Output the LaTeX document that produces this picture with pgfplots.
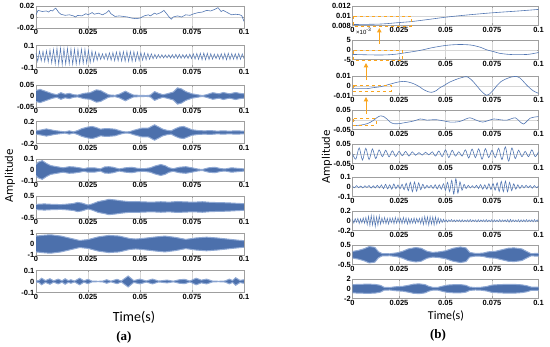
\documentclass[border=0pt]{standalone}
\usepackage{fontspec}
\setmainfont{Liberation Sans}
\newfontfamily\tickfam{Liberation Sans}
\newfontfamily\dejavu{DejaVu Sans}
\newfontfamily\carlito{Carlito}
\newfontfamily\lserif{Liberation Serif}
\usepackage{pgfplots}
\pgfplotsset{compat=1.18}
\usepgfplotslibrary{fillbetween}
\usetikzlibrary{arrows.meta}
\definecolor{sig}{RGB}{82,118,178}
\definecolor{core}{RGB}{76,112,172}
\definecolor{fringe}{RGB}{145,170,212}
\definecolor{org}{RGB}{250,165,30}
\newcommand\tickfont{\tickfam\bfseries\fontsize{7.5}{8}\selectfont}
\pgfplotsset{
 panel/.style={scale only axis, anchor=north west, xmin=0, xmax=0.1,
   scaled x ticks=false, scaled y ticks=false,
   xtick={0,0.025,0.05,0.075,0.1}, xticklabels={0,0.025,0.05,0.075,0.1},
   axis line style={draw=gray!75, line width=0.5pt},
   tick style={draw=gray!75, line width=0.4pt}, tick align=inside, major tick length=2pt,
   grid=major, grid style={draw=gray!32, line width=0.3pt},
   ticklabel style={font=\tickfont},
   xticklabel style={inner sep=1.5pt},
   yticklabel style={inner sep=1.5pt}},
 L/.style={panel, width=208pt, height=22pt},
 R/.style={panel, width=186pt, height=19.5pt},
 sigl/.style={color=sig, line width=0.6pt, mark=none},
}
\newcommand\env[1]{%
 \addplot[name path=A, draw=fringe, line width=1pt] table[header=false,row sep=\\]{#1};
 \addplot[name path=B, draw=fringe, line width=1pt] table[header=false,row sep=\\, y expr=-\thisrowno{1}]{#1};
 \addplot[fill=core, draw=none] fill between[of=A and B];}
\begin{document}
\begin{tikzpicture}
\path (0,0) rectangle (550pt,-347pt);
% ================= LEFT (a) =================
\begin{axis}[L, at={(36pt,-6pt)}, ymin=-0.02, ymax=0.02, ytick={-0.02,0,0.02}, yticklabels={-0.02,0,0.02}]
\addplot[sigl] table[header=false,row sep=\\]{
0 0.004\\0.001 0.012\\0.003 0.01\\0.005 0.011\\0.006 0.009\\0.007 0.012\\0.008 0.011\\0.009 0.015\\0.0095 0.016\\0.011 0.008\\0.012 0.005\\0.014 0.003\\0.016 0.004\\0.018 0.002\\0.019 0.0\\0.020 0.003\\0.022 0.002\\0.024 0.006\\0.025 0.004\\0.027 0.008\\0.028 0.005\\0.030 0.007\\0.032 0.004\\0.034 0.008\\0.035 0.012\\0.036 0.006\\0.038 0.001\\0.040 0.002\\0.042 0.001\\0.044 0.0\\0.046 -0.002\\0.048 -0.003\\0.050 -0.002\\0.052 0.002\\0.054 0.004\\0.055 0.002\\0.057 0.007\\0.058 0.005\\0.060 0.008\\0.0615 0.012\\0.063 0.005\\0.064 0.0\\0.065 -0.004\\0.066 0.0\\0.068 0.002\\0.070 0.0\\0.072 0.004\\0.074 0.003\\0.076 0.006\\0.078 0.008\\0.080 0.009\\0.082 0.012\\0.084 0.011\\0.086 0.014\\0.0875 0.017\\0.089 0.01\\0.090 0.012\\0.092 0.008\\0.094 0.004\\0.096 0.005\\0.098 0.004\\0.099 0.002\\0.1 -0.008\\};
\end{axis}
\begin{axis}[L, at={(36pt,-45.5pt)}, ymin=-0.1, ymax=0.1, ytick={-0.1,0,0.1}, yticklabels={-0.1,0,0.1}]
\addplot[sigl, line width=0.5pt] table[header=false,row sep=\\, x expr=\coordindex*0.000840336, y index=0]{
0.03\\-0.045\\0.05\\-0.04\\0.048\\-0.045\\0.052\\-0.05\\0.06\\-0.058\\0.065\\-0.068\\0.075\\-0.072\\0.078\\-0.075\\0.072\\-0.07\\0.075\\-0.068\\0.07\\-0.072\\0.068\\-0.07\\0.066\\-0.065\\0.068\\-0.062\\0.066\\-0.06\\0.058\\-0.055\\0.05\\-0.045\\0.042\\-0.035\\0.032\\-0.028\\0.025\\-0.025\\0.028\\-0.03\\0.034\\-0.035\\0.038\\-0.04\\0.042\\-0.04\\0.044\\-0.042\\0.045\\-0.044\\0.047\\-0.045\\0.046\\-0.044\\0.045\\-0.042\\0.04\\-0.038\\0.036\\-0.034\\0.032\\-0.03\\0.028\\-0.026\\0.025\\-0.022\\0.02\\-0.018\\0.018\\-0.015\\0.016\\-0.014\\0.015\\-0.013\\0.016\\-0.015\\0.018\\-0.016\\0.02\\-0.018\\0.02\\-0.017\\0.018\\-0.016\\0.018\\-0.018\\0.022\\-0.02\\0.025\\-0.024\\0.028\\-0.027\\0.03\\-0.03\\0.032\\-0.03\\0.03\\-0.028\\0.026\\-0.024\\0.022\\-0.02\\0.022\\-0.024\\0.026\\-0.027\\0.028\\-0.03\\0.03\\-0.028\\0.027\\-0.025\\0.026\\-0.027\\0.028\\-0.026\\0.024\\-0.02\\};
\end{axis}
\begin{axis}[L, at={(36pt,-85pt)}, ymin=-0.05, ymax=0.05, ytick={-0.05,0,0.05}, yticklabels={-0.05,0,0.05}]
\env{0 0.025\\0.002 0.03\\0.005 0.02\\0.008 0.01\\0.010 0.006\\0.012 0.015\\0.014 0.008\\0.016 0.012\\0.018 0.006\\0.020 0.004\\0.023 0.012\\0.026 0.015\\0.029 0.028\\0.031 0.025\\0.033 0.015\\0.035 0.005\\0.038 0.003\\0.040 0.008\\0.043 0.022\\0.045 0.012\\0.047 0.004\\0.050 0.003\\0.053 0.002\\0.055 0.004\\0.057 0.02\\0.059 0.012\\0.061 0.006\\0.063 0.01\\0.066 0.018\\0.068 0.037\\0.070 0.032\\0.072 0.02\\0.075 0.01\\0.078 0.005\\0.080 0.002\\0.082 0.006\\0.085 0.015\\0.088 0.01\\0.090 0.016\\0.093 0.01\\0.096 0.016\\0.098 0.012\\0.1 0.01\\}
\end{axis}
\begin{axis}[L, at={(36pt,-121.5pt)}, ymin=-0.2, ymax=0.2, ytick={-0.2,0,0.2}, yticklabels={-0.2,0,0.2}]
\env{0 0.03\\0.003 0.05\\0.005 0.065\\0.007 0.05\\0.009 0.035\\0.012 0.02\\0.014 0.012\\0.016 0.03\\0.018 0.012\\0.020 0.035\\0.022 0.07\\0.025 0.1\\0.027 0.11\\0.029 0.09\\0.031 0.06\\0.033 0.07\\0.035 0.07\\0.038 0.06\\0.041 0.025\\0.043 0.01\\0.045 0.015\\0.047 0.04\\0.049 0.06\\0.051 0.08\\0.054 0.08\\0.056 0.12\\0.057 0.14\\0.059 0.1\\0.061 0.06\\0.063 0.04\\0.065 0.03\\0.067 0.07\\0.069 0.1\\0.071 0.11\\0.073 0.08\\0.075 0.05\\0.078 0.035\\0.081 0.03\\0.084 0.035\\0.087 0.025\\0.090 0.03\\0.093 0.025\\0.096 0.03\\0.1 0.025\\}
\end{axis}
\begin{axis}[L, at={(36pt,-159pt)}, ymin=-0.1, ymax=0.1, ytick={-0.1,0,0.1}, yticklabels={-0.1,0,0.1}]
\env{0 0.05\\0.001 0.07\\0.003 0.085\\0.005 0.06\\0.007 0.04\\0.010 0.03\\0.013 0.02\\0.016 0.03\\0.018 0.028\\0.021 0.02\\0.023 0.012\\0.025 0.02\\0.028 0.02\\0.031 0.01\\0.033 0.028\\0.035 0.03\\0.037 0.025\\0.040 0.01\\0.043 0.02\\0.046 0.025\\0.049 0.015\\0.052 0.012\\0.055 0.02\\0.057 0.035\\0.060 0.05\\0.062 0.04\\0.064 0.02\\0.066 0.012\\0.069 0.025\\0.072 0.03\\0.075 0.02\\0.078 0.008\\0.080 0.005\\0.083 0.02\\0.086 0.025\\0.089 0.012\\0.091 0.01\\0.094 0.02\\0.097 0.015\\0.1 0.01\\}
\end{axis}
\begin{axis}[L, at={(36pt,-196pt)}, ymin=-0.5, ymax=0.5, ytick={-0.5,0,0.5}, yticklabels={-0.5,0,0.5}]
\env{0 0.12\\0.004 0.14\\0.008 0.12\\0.012 0.11\\0.015 0.13\\0.018 0.16\\0.020 0.21\\0.022 0.18\\0.025 0.09\\0.027 0.14\\0.030 0.25\\0.033 0.3\\0.035 0.35\\0.038 0.32\\0.041 0.28\\0.045 0.24\\0.048 0.25\\0.052 0.23\\0.056 0.22\\0.060 0.24\\0.064 0.22\\0.068 0.25\\0.072 0.23\\0.076 0.22\\0.080 0.24\\0.084 0.21\\0.088 0.2\\0.092 0.19\\0.096 0.17\\0.1 0.15\\}
\end{axis}
\begin{axis}[L, at={(36pt,-233pt)}, ymin=-1, ymax=1, ytick={-1,0,1}, yticklabels={-1,0,1}]
\env{0 0.72\\0.004 0.8\\0.007 0.84\\0.012 0.72\\0.017 0.5\\0.021 0.32\\0.025 0.4\\0.030 0.65\\0.035 0.78\\0.040 0.72\\0.045 0.5\\0.048 0.45\\0.052 0.52\\0.058 0.65\\0.062 0.72\\0.067 0.6\\0.072 0.42\\0.077 0.55\\0.082 0.62\\0.087 0.55\\0.092 0.45\\0.097 0.35\\0.1 0.3\\}
\end{axis}
\begin{axis}[L, at={(36pt,-270.5pt)}, ymin=-0.1, ymax=0.1, ytick={-0.1,0,0.1}, yticklabels={-0.1,0,0.1}]
\env{0 0.004\\0.0015 0.01\\0.0027 0.03\\0.0045 0.008\\0.0067 0.025\\0.0085 0.006\\0.0107 0.022\\0.0125 0.006\\0.014 0.025\\0.0155 0.008\\0.0168 0.016\\0.0185 0.004\\0.021 0.03\\0.023 0.006\\0.025 0.02\\0.027 0.003\\0.030 0.002\\0.032 0.003\\0.034 0.016\\0.036 0.003\\0.039 0.02\\0.041 0.004\\0.0443 0.05\\0.047 0.008\\0.050 0.022\\0.053 0.005\\0.056 0.022\\0.059 0.004\\0.063 0.013\\0.066 0.003\\0.069 0.016\\0.0715 0.02\\0.074 0.004\\0.077 0.03\\0.0795 0.012\\0.082 0.022\\0.085 0.003\\0.088 0.002\\0.091 0.005\\0.093 0.022\\0.0945 0.008\\0.096 0.035\\0.098 0.01\\0.1 0.016\\}
\end{axis}
% ================= RIGHT (b) =================
\begin{axis}[R, at={(352.5pt,-6pt)}, clip=false, ymin=0.008, ymax=0.012, ytick={0.008,0.01,0.012}, yticklabels={0.008,0.01,0.012}]
\addplot[sigl, smooth] table[header=false,row sep=\\]{
0 0.0082\\0.015 0.0083\\0.025 0.0086\\0.0315 0.0088\\0.04 0.0092\\0.05 0.0097\\0.06 0.0101\\0.075 0.0106\\0.09 0.0110\\0.1 0.0113\\};
\draw[org, dashed, line width=0.8pt] (axis cs:0.0003,0.0099) rectangle (axis cs:0.0315,0.0079);
\end{axis}
\begin{axis}[R, at={(352.5pt,-40pt)}, clip=false, ymin=-5, ymax=5, ytick={-5,0,5}, yticklabels={-5,0,5}]
\addplot[sigl, smooth] table[header=false,row sep=\\]{
0 -2.4\\0.008 -2.6\\0.015 -2.7\\0.02 -2.55\\0.024 -2.2\\0.028 -1.6\\0.033 -0.9\\0.038 0.0\\0.042 0.9\\0.046 1.6\\0.05 2.2\\0.054 2.55\\0.058 2.7\\0.062 2.55\\0.065 2.2\\0.069 1.2\\0.072 0.0\\0.076 -1.0\\0.079 -1.8\\0.083 -2.3\\0.0866 -2.5\\0.090 -2.5\\0.094 -2.4\\0.097 -2.0\\0.1 -1.4\\};
\draw[org, dashed, line width=0.8pt] (axis cs:0.0003,-0.5) rectangle (axis cs:0.027,-5.4);
\end{axis}
\begin{axis}[R, at={(352.5pt,-76pt)}, clip=false, ymin=-0.01, ymax=0.01, ytick={-0.01,0,0.01}, yticklabels={-0.01,0,0.01}]
\addplot[sigl, smooth] table[header=false,row sep=\\]{
0 -0.003\\0.005 -0.003\\0.0077 -0.003\\0.011 -0.002\\0.015 -0.001\\0.019 0.001\\0.022 0.0026\\0.025 0.004\\0.0274 0.0045\\0.030 0.0038\\0.033 0.002\\0.036 -0.001\\0.038 -0.0037\\0.0405 -0.006\\0.0427 -0.0067\\0.045 -0.005\\0.047 -0.002\\0.049 0.0\\0.052 0.0035\\0.056 0.0067\\0.059 0.0085\\0.0615 0.0093\\0.064 0.006\\0.0668 0.0\\0.069 -0.005\\0.0722 -0.0098\\0.075 -0.006\\0.0776 0.0\\0.080 0.0045\\0.083 0.0074\\0.0855 0.009\\0.0875 0.0096\\0.090 0.008\\0.094 0.0\\0.097 -0.005\\0.1 -0.0078\\};
\draw[org, dashed, line width=0.8pt] (axis cs:0.0003,0.0005) rectangle (axis cs:0.0207,-0.0058);
\end{axis}
\begin{axis}[R, at={(352.5pt,-110pt)}, clip=false, ymin=-0.05, ymax=0.05, ytick={-0.05,0,0.05}, yticklabels={-0.05,0,0.05}]
\addplot[sigl, smooth] table[header=false,row sep=\\]{
0 -0.03\\0.004 -0.028\\0.008 -0.02\\0.011 -0.005\\0.013 0.01\\0.015 0.02\\0.017 0.015\\0.0185 0.004\\0.020 -0.01\\0.022 -0.02\\0.025 -0.02\\0.0275 -0.016\\0.030 -0.012\\0.033 -0.006\\0.0364 0.004\\0.038 0.002\\0.040 -0.002\\0.043 0.0\\0.0453 0.0\\0.049 -0.006\\0.0525 -0.012\\0.055 -0.012\\0.058 -0.008\\0.061 0.004\\0.063 0.01\\0.065 0.004\\0.067 -0.004\\0.070 -0.012\\0.073 -0.004\\0.076 0.004\\0.0794 0.0\\0.083 -0.002\\0.0875 0.01\\0.090 -0.01\\0.092 -0.022\\0.094 -0.005\\0.0955 0.008\\0.098 0.014\\0.1 0.016\\};
\draw[org, dashed, line width=0.8pt] (axis cs:0.0003,0.005) rectangle (axis cs:0.0126,-0.027);
\end{axis}
\begin{axis}[R, at={(352.5pt,-144pt)}, ymin=-0.05, ymax=0.05, ytick={-0.05,0,0.05}, yticklabels={-0.05,0,0.05}]
\addplot[sigl, smooth] table[header=false,row sep=\\, x expr=\coordindex*0.00178571, y index=0]{
0.0\\-0.028\\0.03\\-0.032\\0.028\\-0.03\\0.025\\-0.025\\0.02\\-0.015\\0.018\\-0.016\\0.015\\-0.014\\0.012\\-0.01\\0.012\\-0.012\\0.01\\-0.008\\0.006\\-0.007\\0.008\\-0.006\\0.01\\-0.012\\0.014\\-0.015\\0.02\\-0.02\\0.018\\-0.012\\0.01\\-0.012\\0.02\\-0.022\\0.024\\-0.02\\0.025\\-0.028\\0.026\\-0.02\\0.018\\-0.02\\0.028\\-0.03\\0.035\\-0.038\\0.03\\-0.025\\0.018\\-0.015\\0.012\\-0.015\\0.02\\-0.015\\0.01\\};
\end{axis}
\begin{axis}[R, at={(352.5pt,-177pt)}, ymin=-0.1, ymax=0.1, ytick={-0.1,0,0.1}, yticklabels={-0.1,0,0.1}]
\addplot[sigl, smooth] table[header=false,row sep=\\, x expr=\coordindex*0.00111111, y index=0]{
0.005\\-0.01\\0.012\\-0.01\\0.008\\-0.012\\0.01\\-0.008\\0.012\\-0.014\\0.01\\-0.012\\0.015\\-0.012\\0.018\\-0.02\\0.025\\-0.022\\0.02\\-0.025\\0.028\\-0.02\\0.018\\-0.02\\0.025\\-0.03\\0.035\\-0.04\\0.045\\-0.05\\0.048\\-0.045\\0.04\\-0.03\\0.025\\-0.018\\0.015\\-0.012\\0.015\\-0.018\\0.02\\-0.022\\0.02\\-0.025\\0.03\\-0.035\\0.045\\-0.05\\0.065\\-0.075\\0.082\\-0.065\\0.05\\-0.035\\0.025\\-0.018\\0.015\\-0.012\\0.01\\-0.012\\0.015\\-0.018\\0.022\\-0.025\\0.02\\-0.025\\0.03\\-0.028\\0.032\\-0.035\\0.04\\-0.048\\0.055\\-0.05\\0.058\\-0.05\\0.045\\-0.04\\0.03\\-0.025\\0.02\\-0.018\\0.015\\-0.012\\0.015\\-0.01\\0.012\\-0.015\\0.012\\-0.01\\0.008\\};
\end{axis}
\begin{axis}[R, at={(352.5pt,-211pt)}, ymin=-0.2, ymax=0.2, ytick={-0.2,0,0.2}, yticklabels={-0.2,0,0.2}]
\addplot[sigl, line width=0.5pt] table[header=false,row sep=\\, x expr=\coordindex*0.000719424, y index=0]{
0.03\\-0.05\\0.045\\-0.03\\0.05\\-0.06\\0.04\\-0.045\\0.06\\-0.05\\0.07\\-0.08\\0.09\\-0.1\\0.11\\-0.09\\0.1\\-0.12\\0.08\\-0.09\\0.1\\-0.07\\0.06\\-0.05\\0.07\\-0.06\\0.05\\-0.07\\0.06\\-0.04\\0.055\\-0.06\\0.07\\-0.05\\0.06\\-0.045\\0.05\\-0.06\\0.07\\-0.05\\0.06\\-0.07\\0.05\\-0.06\\0.045\\-0.05\\0.06\\-0.055\\0.05\\-0.04\\0.05\\-0.06\\0.07\\-0.08\\0.09\\-0.07\\0.08\\-0.09\\0.085\\-0.07\\0.08\\-0.09\\0.08\\-0.07\\0.06\\-0.05\\0.04\\-0.035\\0.03\\-0.025\\0.02\\-0.025\\0.02\\-0.015\\0.025\\-0.02\\0.018\\-0.022\\0.02\\-0.015\\0.02\\-0.025\\0.022\\-0.02\\0.015\\-0.018\\0.02\\-0.022\\0.025\\-0.02\\0.018\\-0.015\\0.02\\-0.025\\0.022\\-0.02\\0.018\\-0.015\\0.02\\-0.022\\0.025\\-0.02\\0.015\\-0.018\\0.022\\-0.025\\0.02\\-0.018\\0.015\\-0.02\\0.025\\-0.022\\0.02\\-0.015\\0.018\\-0.02\\0.025\\-0.03\\0.028\\-0.022\\0.02\\-0.018\\0.015\\-0.02\\0.022\\-0.025\\0.02\\-0.018\\0.02\\-0.022\\0.025\\-0.02\\0.018\\-0.015\\0.02\\-0.022\\0.025\\-0.02\\0.018\\-0.015\\};
\end{axis}
\begin{axis}[R, at={(352.5pt,-245pt)}, ymin=-0.5, ymax=0.5, ytick={-0.5,0,0.5}, yticklabels={-0.5,0,0.5}]
\env{0 0.17\\0.003 0.22\\0.006 0.3\\0.009 0.42\\0.012 0.38\\0.014 0.15\\0.016 0.06\\0.020 0.05\\0.024 0.1\\0.027 0.18\\0.030 0.3\\0.034 0.37\\0.037 0.33\\0.040 0.18\\0.043 0.12\\0.046 0.14\\0.050 0.2\\0.054 0.33\\0.058 0.4\\0.061 0.35\\0.063 0.12\\0.066 0.07\\0.070 0.08\\0.073 0.15\\0.077 0.18\\0.080 0.25\\0.084 0.34\\0.087 0.35\\0.091 0.3\\0.094 0.15\\0.096 0.06\\0.1 0.07\\}
\end{axis}
\begin{axis}[R, at={(352.5pt,-279pt)}, ymin=-2, ymax=2, ytick={-2,0,2}, yticklabels={-2,0,2}]
\env{0 0.85\\0.004 0.9\\0.008 0.95\\0.012 0.9\\0.015 0.7\\0.017 0.3\\0.020 0.25\\0.023 0.4\\0.027 0.5\\0.030 0.7\\0.033 0.95\\0.036 1.0\\0.039 0.85\\0.041 0.5\\0.043 0.3\\0.046 0.3\\0.048 0.5\\0.051 0.75\\0.055 0.85\\0.058 0.85\\0.061 0.7\\0.063 0.35\\0.066 0.25\\0.069 0.3\\0.072 0.45\\0.075 0.75\\0.079 0.85\\0.083 0.9\\0.087 0.9\\0.091 0.8\\0.094 0.6\\0.096 0.35\\0.1 0.35\\}
\end{axis}
% ===== annotations =====
\draw[org, line width=1pt, -{Triangle[width=4.5pt,length=4.5pt]}] (379.3pt,-44pt) -- (379.3pt,-28pt);
\draw[org, line width=1pt, -{Triangle[width=4.5pt,length=4.5pt]}] (366pt,-80pt) -- (366pt,-63pt);
\draw[org, line width=1pt, -{Triangle[width=4.5pt,length=4.5pt]}] (366pt,-114pt) -- (366pt,-97pt);
\node[anchor=west, inner sep=0pt, font=\tickfam\fontsize{6}{7}\selectfont] at (356pt,-31.5pt) {×10\textsuperscript{-3}};
\node[rotate=90, font=\dejavu\fontsize{10.5}{12}\selectfont] at (10pt,-176pt) {Amplitude};
\node[rotate=90, font=\dejavu\fontsize{10.5}{12}\selectfont] at (327pt,-157pt) {Amplitude};
\node[font=\carlito\fontsize{14}{16}\selectfont] at (134pt,-317pt) {Time(s)};
\node[font=\carlito\fontsize{12}{14}\selectfont] at (446pt,-315.5pt) {Time(s)};
\node[font=\lserif\bfseries\fontsize{13}{15}\selectfont] at (124pt,-337pt) {(a)};
\node[font=\lserif\bfseries\fontsize{13}{15}\selectfont] at (438pt,-335pt) {(b)};
\end{tikzpicture}
\end{document}
